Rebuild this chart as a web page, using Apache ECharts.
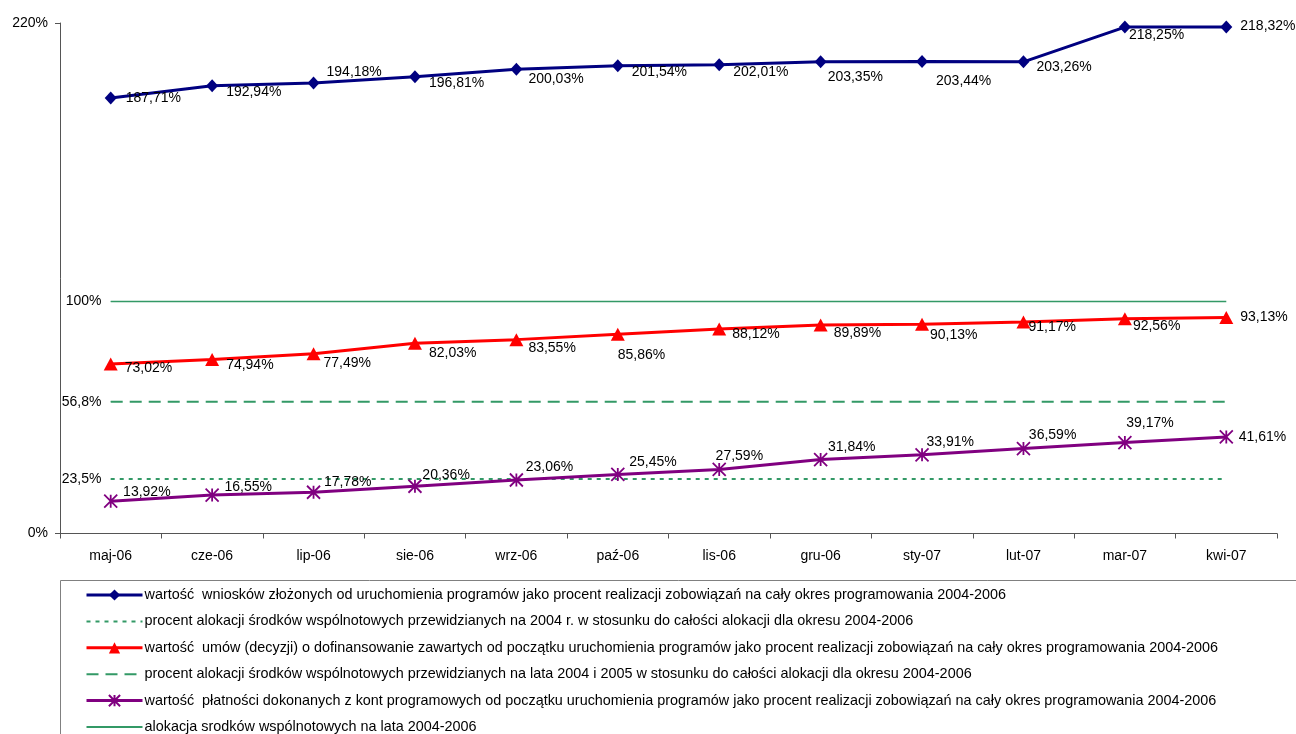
<!DOCTYPE html>
<html>
<head>
<meta charset="utf-8">
<script src="https://cdn.jsdelivr.net/npm/echarts@6/dist/echarts.min.js"></script>
<style>html,body{margin:0;padding:0;background:#fff}#c{width:1296px;height:734px}</style>
</head>
<body>
<div id="c"></div>
<script>
var categories = ['maj-06','cze-06','lip-06','sie-06','wrz-06','paź-06','lis-06','gru-06','sty-07','lut-07','mar-07','kwi-07'];
var wnioski = [187.71,192.94,194.18,196.81,200.03,201.54,202.01,203.35,203.44,203.26,218.25,218.32];
var umowy = [73.02,74.94,77.49,82.03,83.55,85.86,88.12,89.89,90.13,91.17,92.56,93.13];
var platnosci = [13.92,16.55,17.78,20.36,23.06,25.45,27.59,31.84,33.91,36.59,39.17,41.61];
var alokacja2004 = 23.5;
var alokacja2004_2005 = 56.8;
var alokacjaCala = 100;
var yTicks = [0, 220];

var names = [
  'wartość  wniosków złożonych od uruchomienia programów jako procent realizacji zobowiązań na cały okres programowania 2004-2006',
  'procent alokacji środków wspólnotowych przewidzianych na 2004 r. w stosunku do całości alokacji dla okresu 2004-2006',
  'wartość  umów (decyzji) o dofinansowanie zawartych od początku uruchomienia programów jako procent realizacji zobowiązań na cały okres programowania 2004-2006',
  'procent alokacji środków wspólnotowych przewidzianych na lata 2004 i 2005 w stosunku do całości alokacji dla okresu 2004-2006',
  'wartość  płatności dokonanych z kont programowych od początku uruchomienia programów jako procent realizacji zobowiązań na cały okres programowania 2004-2006',
  'alokacja srodków wspólnotowych na lata 2004-2006'
];

// label placement (style only): [dx from point centre to label left, dy of label centre]
var blueLbl = [[15,0],[14,6],[13,-11],[14,6],[12,10],[14,6],[14,7],[7,16],[14,20],[13,5],[4,8],[14,-1]];
var redLbl = [[14,4],[14,6],[10,9],[14,10],[12,9],[0,21],[13,5],[13,8],[8,11],[5,5],[8,7],[14,0]];
var purpleLbl = [[12,-9],[12,-8],[10,-10],[7,-11],[9,-13],[11,-12],[-4,-13],[7,-12],[4,-13],[5,-13],[1,-19],[12,0]];

var FONT = 'Liberation Sans';
var FS = 14;

function fmt(v){ return v.toFixed(2).replace('.', ',') + '%'; }

function dataWithLabels(vals, offs, half){
  return vals.map(function(v, i){
    return {value: v, label: {offset: [offs[i][0] - half, offs[i][1]]}};
  });
}

function flat(v){ return categories.map(function(){ return v; }); }

var labelBase = {show: true, position: 'right', distance: 0, color: '#000', fontFamily: FONT, fontSize: FS,
  formatter: function(p){ return fmt(p.value); }};

var legendData = names.map(function(n, i){
  if (i === 1 || i === 3 || i === 5) {
    return {name: n, itemStyle: {opacity: 0, borderWidth: 0}};
  }
  return {name: n, lineStyle: {width: 3}};
});

var chart = echarts.init(document.getElementById('c'), null, {renderer: 'canvas'});
chart.setOption({
  animation: false,
  backgroundColor: '#fff',
  textStyle: {fontFamily: FONT},
  grid: {left: 60, right: 19, top: 23, bottom: 200.5, containLabel: false},
  xAxis: {
    type: 'category', data: categories, boundaryGap: true,
    axisLine: {lineStyle: {color: '#555', width: 1}},
    axisTick: {show: true, length: 5, interval: 0, lineStyle: {color: '#555'}},
    axisLabel: {color: '#000', fontFamily: FONT, fontSize: FS, margin: 16, interval: 0}
  },
  yAxis: {
    type: 'value', min: yTicks[0], max: yTicks[1], interval: yTicks[1] - yTicks[0],
    axisLine: {show: true, lineStyle: {color: '#555', width: 1}},
    axisTick: {show: true, length: 5, lineStyle: {color: '#555'}},
    splitLine: {show: false},
    axisLabel: {color: '#000', fontFamily: FONT, fontSize: FS, margin: 12, formatter: '{value}%'}
  },
  legend: {
    orient: 'vertical', left: 85, top: 588, padding: 0, height: 146,
    itemWidth: 56, itemHeight: 14, itemGap: 12.4,
    textStyle: {color: '#000', fontFamily: FONT, fontSize: 14.4, lineHeight: 14, padding: [0,0,0,-3]},
    data: legendData
  },
  graphic: [{
    type: 'rect', shape: {x: 60.5, y: 580.5, width: 1300, height: 200},
    style: {fill: 'none', stroke: '#808080', lineWidth: 1}, z: -1
  }],
  series: [
    {
      name: 'refLabels', type: 'scatter', symbol: 'circle', symbolSize: 0.5,
      itemStyle: {color: '#339966', opacity: 1},
      data: [[0, alokacja2004], [0, alokacja2004_2005], [0, alokacjaCala]],
      label: {show: true, position: 'left', distance: 9, color: '#000', opacity: 1, fontFamily: FONT, fontSize: FS,
        formatter: function(p){ return String(p.value[1]).replace('.', ',') + '%'; }},
      silent: true, z: 1
    },
    {
      name: names[0], type: 'line', data: dataWithLabels(wnioski, blueLbl, 6),
      symbol: 'diamond', symbolSize: [12, 13], showAllSymbol: true,
      lineStyle: {color: '#000080', width: 3},
      itemStyle: {color: '#000080'},
      label: labelBase, z: 5
    },
    {
      name: names[1], type: 'line', data: flat(alokacja2004),
      symbol: 'none',
      lineStyle: {color: '#339966', width: 2, type: [4, 5]},
      itemStyle: {color: '#339966'}
    },
    {
      name: names[2], type: 'line', data: dataWithLabels(umowy, redLbl, 7),
      symbol: 'triangle', symbolSize: [14, 13], showAllSymbol: true,
      lineStyle: {color: '#FF0000', width: 3},
      itemStyle: {color: '#FF0000'},
      label: labelBase, z: 5
    },
    {
      name: names[3], type: 'line', data: flat(alokacja2004_2005),
      symbol: 'none',
      lineStyle: {color: '#339966', width: 2, type: [12, 7]},
      itemStyle: {color: '#339966'}
    },
    {
      name: names[4], type: 'line', data: dataWithLabels(platnosci, purpleLbl, 7),
      symbol: 'path://M0,0L12,12M12,0L0,12M6,0L6,12', symbolSize: 13, showAllSymbol: true,
      lineStyle: {color: '#800080', width: 3},
      itemStyle: {color: '#800080', borderColor: '#800080', borderWidth: 1.8},
      label: labelBase, z: 5
    },
    {
      name: names[5], type: 'line', data: flat(alokacjaCala),
      symbol: 'none',
      lineStyle: {color: '#339966', width: 1.5},
      itemStyle: {color: '#339966'}
    }
  ]
});
</script>
</body>
</html>
